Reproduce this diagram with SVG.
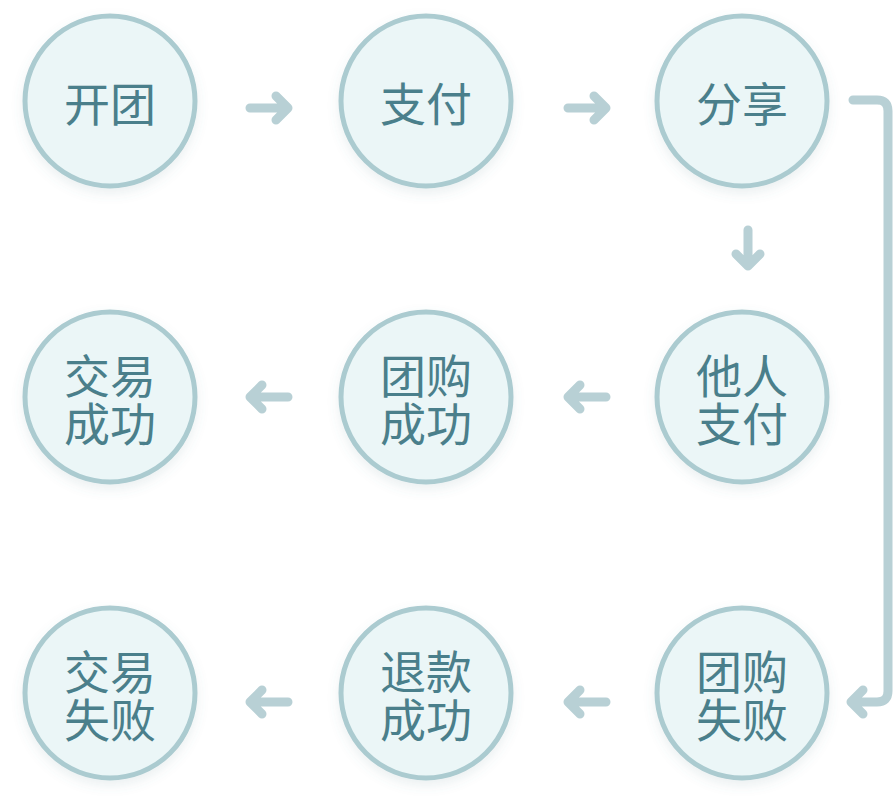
<svg xmlns="http://www.w3.org/2000/svg" width="896" height="812" viewBox="0 0 896 812">
<defs>
<filter id="sh" x="-30%" y="-30%" width="160%" height="170%">
<feDropShadow dx="0" dy="5" stdDeviation="6" flood-color="#5a7f88" flood-opacity="0.12"/>
</filter>
<style>
.c{fill:#ebf6f7;stroke:#abcbd0;stroke-width:5;filter:url(#sh)}
.t{font-family:"Noto Sans CJK SC","Noto Sans CJK JP",sans-serif;font-size:46px;fill:#4a7f8b;text-anchor:middle}
.a{fill:none;stroke:#b8d0d5;stroke-width:9;stroke-linecap:round;stroke-linejoin:round}
</style>
</defs>
<g id="n1"><circle class="c" cx="110" cy="101" r="85"/><text class="t" x="110" y="121">开团</text></g>
<g id="n2"><circle class="c" cx="426" cy="101" r="85"/><text class="t" x="426" y="121">支付</text></g>
<g id="n3"><circle class="c" cx="742" cy="101" r="85"/><text class="t" x="742" y="121">分享</text></g>
<g id="n4"><circle class="c" cx="110" cy="397" r="85"/><text class="t" x="110" y="393">交易</text><text class="t" x="110" y="441">成功</text></g>
<g id="n5"><circle class="c" cx="426" cy="397" r="85"/><text class="t" x="426" y="393">团购</text><text class="t" x="426" y="441">成功</text></g>
<g id="n6"><circle class="c" cx="742" cy="397" r="85"/><text class="t" x="742" y="393">他人</text><text class="t" x="742" y="441">支付</text></g>
<g id="n7"><circle class="c" cx="110" cy="693" r="85"/><text class="t" x="110" y="689">交易</text><text class="t" x="110" y="737">失败</text></g>
<g id="n8"><circle class="c" cx="426" cy="693" r="85"/><text class="t" x="426" y="689">退款</text><text class="t" x="426" y="737">成功</text></g>
<g id="n9"><circle class="c" cx="742" cy="693" r="85"/><text class="t" x="742" y="689">团购</text><text class="t" x="742" y="737">失败</text></g>
<g id="connectors">
<path class="a" d="M250,108 H288 M276,96 L288,108 L276,120"/>
<path class="a" d="M568,108 H606 M594,96 L606,108 L594,120"/>
<path class="a" d="M748,230 V266 M736,254 L748,266 L760,254"/>
<path class="a" d="M288,397 H250 M262,385 L250,397 L262,409"/>
<path class="a" d="M606,397 H568 M580,385 L568,397 L580,409"/>
<path class="a" d="M288,702 H250 M262,690 L250,702 L262,714"/>
<path class="a" d="M606,702 H568 M580,690 L568,702 L580,714"/>
<path class="a" d="M853,100 H877 Q888,100 888,111 V691 Q888,702 877,702 H851 M863,690 L851,702 L863,714"/>
</g>
</svg>
